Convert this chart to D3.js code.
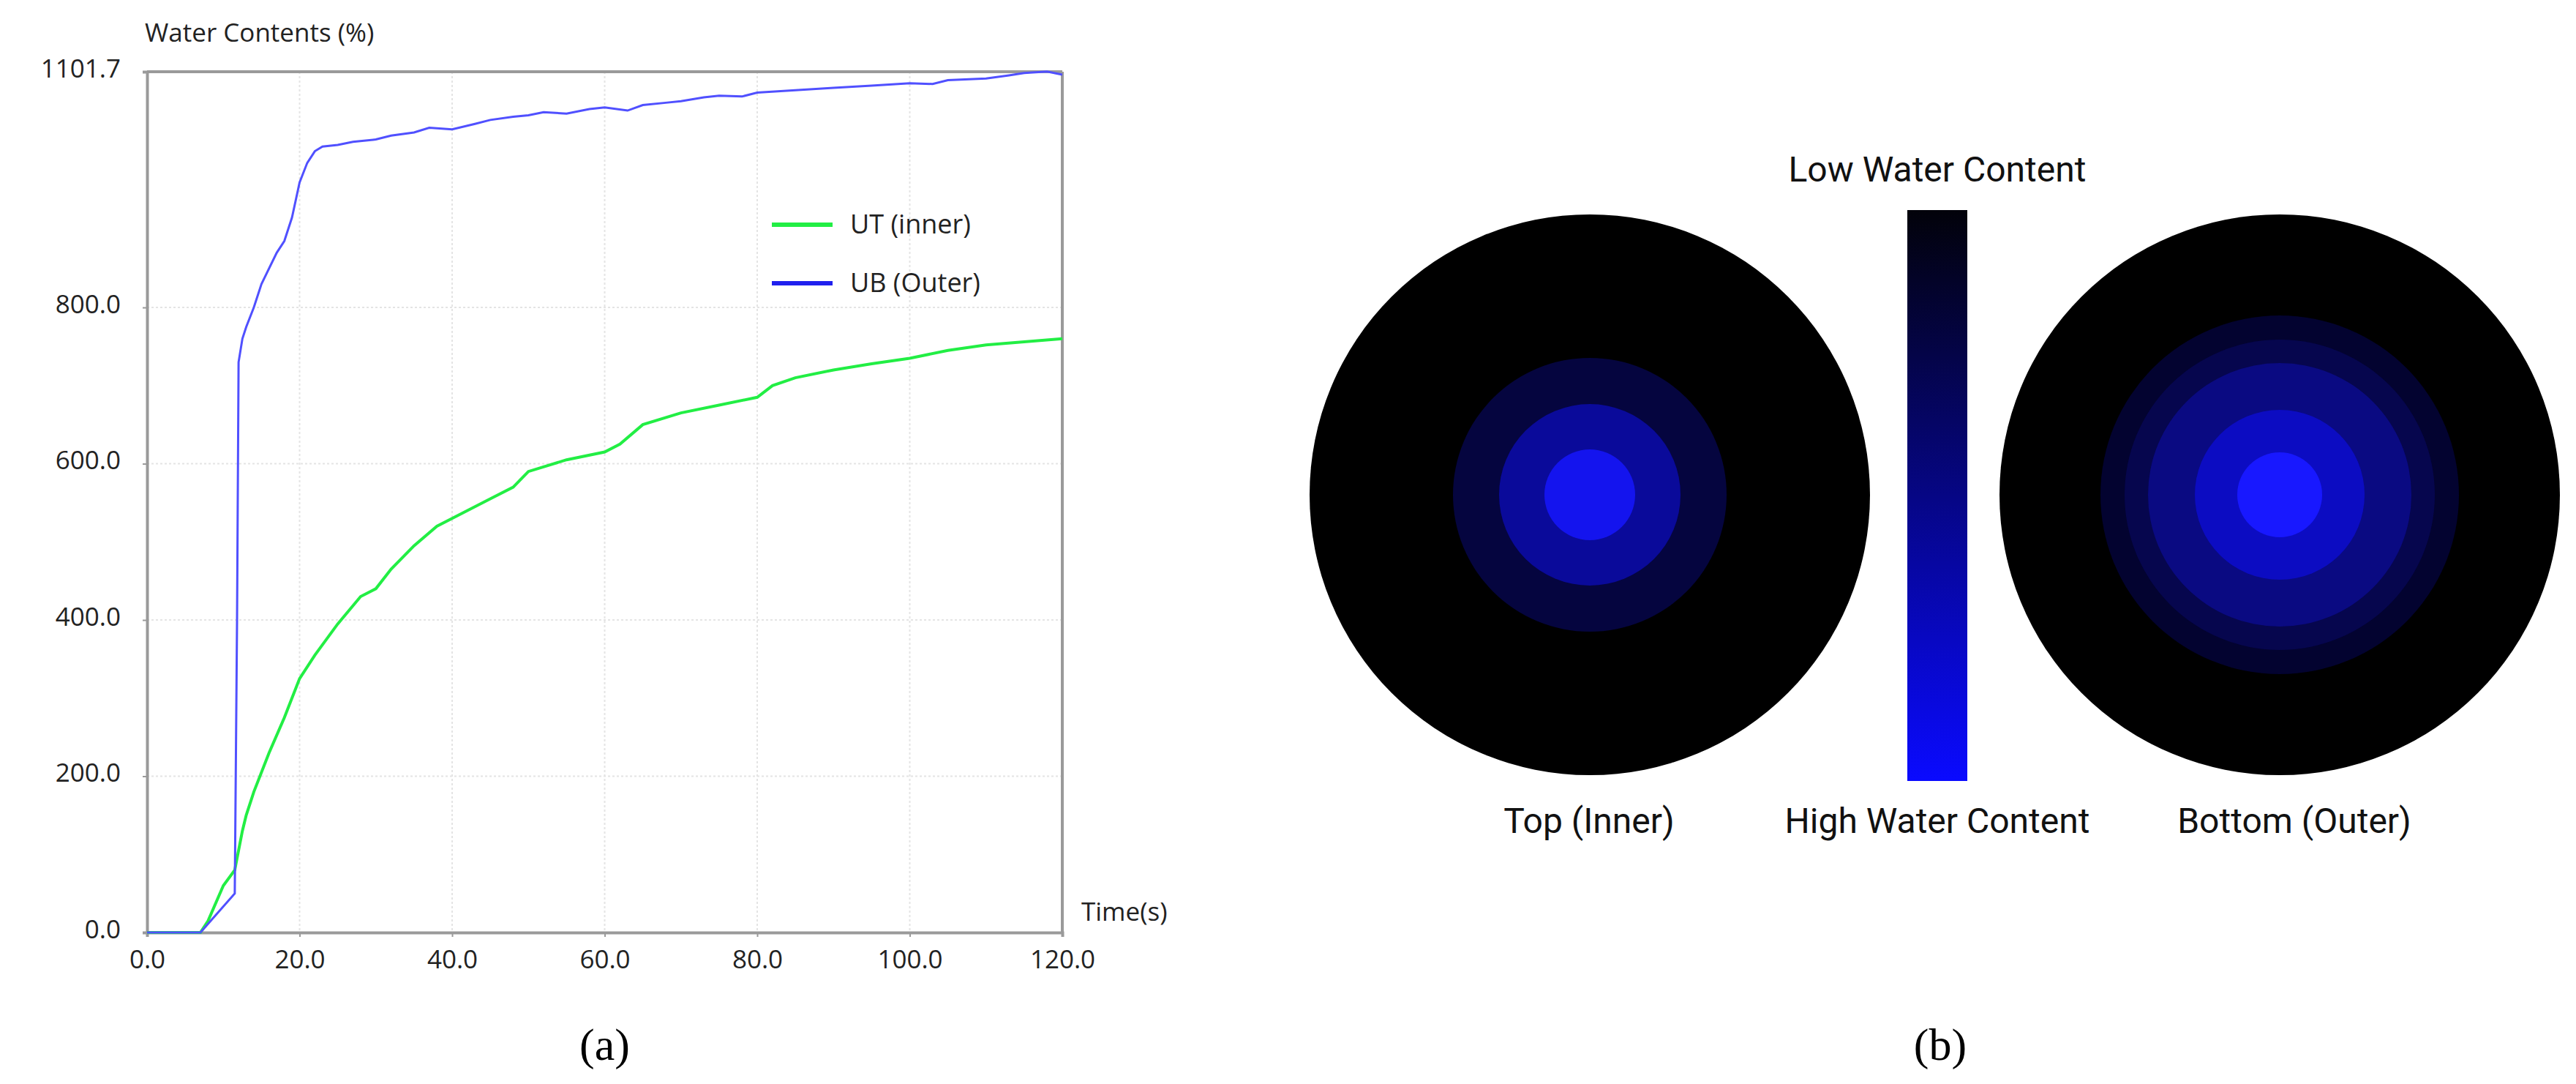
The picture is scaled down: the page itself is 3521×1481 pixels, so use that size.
<!DOCTYPE html>
<html><head><meta charset="utf-8">
<script src="https://cdn.jsdelivr.net/npm/d3@7"></script>
<style>body{margin:0;background:#fff}</style>
</head><body>
<script>
const timeUT = [0,7,8,10,11.5,12.5,13,14,16,18,19,20,22,25,28,30,32,35,38,40,45,48,50,55,60,62,65,70,75,80,82,85,90,95,100,105,110,115,120];
const valUT  = [0,0,15,60,80,130,150,180,230,275,300,325,355,395,430,440,465,495,520,530,555,570,590,605,615,625,650,665,675,685,700,710,720,728,735,745,752,756,760];
const timeUB = [0,7,11.5,11.8,12,12.5,13,14,15,17,18,19,20,21,22,23,25,27,30,32,35,37,40,43,45,48,50,52,55,58,60,63,65,68,70,73,75,78,80,85,90,95,100,103,105,110,113,115,118,120];
const valUB  = [0,0,50,400,730,760,775,800,830,870,885,915,960,985,1000,1006,1008,1012,1015,1020,1024,1030,1028,1035,1040,1044,1046,1050,1048,1054,1056,1052,1059,1062,1064,1069,1071,1070,1075,1078,1081,1084,1087,1086,1091,1093,1097,1100,1102,1098];
const yTicks = [0,200,400,600,800,1101.7];
const xTicks = [0,20,40,60,80,100,120];
const legendLabels = ["UT (inner)","UB (Outer)"];
const ringsTop = [{r:187,c:"#05053f"},{r:124,c:"#0a0a9a"},{r:62,c:"#1414ee"}];
const ringsBottom = [{r:245,c:"#030330"},{r:212,c:"#06064e"},{r:180,c:"#0a0a82"},{r:116,c:"#0c0cc2"},{r:58,c:"#1818ff"}];

const W=3521,H=1481;
const svg=d3.select("body").append("svg").attr("width",W).attr("height",H);
const font="'Open Sans', 'DejaVu Sans', sans-serif";
const L=201,R=1452,T=98,B=1274;
const x=d3.scaleLinear().domain([0,120]).range([L,R]);
const y=d3.scaleLinear().domain([0,1101.7]).range([B,T]);

svg.append("g").selectAll("line").data(xTicks.slice(1,-1)).join("line")
 .attr("x1",d=>x(d)).attr("x2",d=>x(d)).attr("y1",T).attr("y2",B)
 .attr("stroke","#e4e4e4").attr("stroke-width",2).attr("stroke-dasharray","3,3");
svg.append("g").selectAll("line").data(yTicks.slice(1,-1)).join("line")
 .attr("y1",d=>y(d)).attr("y2",d=>y(d)).attr("x1",L).attr("x2",R)
 .attr("stroke","#e4e4e4").attr("stroke-width",2).attr("stroke-dasharray","3,3");

const xa=svg.append("g").attr("transform",`translate(0,${B})`)
 .call(d3.axisBottom(x).tickValues(xTicks).tickFormat(d3.format(".1f")).tickSize(6).tickPadding(18));
const ya=svg.append("g").attr("transform",`translate(${L},0)`)
 .call(d3.axisLeft(y).tickValues(yTicks).tickFormat(d=>d===1101.7?"1101.7":d3.format(".1f")(d)).tickSize(6).tickPadding(30));
[xa,ya].forEach(a=>{a.select(".domain").attr("stroke","#9a9a9a").attr("stroke-width",4);
 a.selectAll(".tick line").attr("stroke","#9a9a9a").attr("stroke-width",2);
 a.selectAll("text").attr("font-family",font).attr("font-size",35).attr("fill","#222");});
ya.selectAll("text").attr("dy","0.2em");
svg.append("line").attr("x1",L).attr("x2",R).attr("y1",T).attr("y2",T).attr("stroke","#9a9a9a").attr("stroke-width",4);
svg.append("line").attr("x1",R).attr("x2",R).attr("y1",T).attr("y2",B).attr("stroke","#9a9a9a").attr("stroke-width",4);

const line=d3.line().x(d=>x(d[0])).y(d=>y(d[1]));
svg.append("path").datum(timeUT.map((t,i)=>[t,valUT[i]])).attr("d",line).attr("fill","none").attr("stroke","#22ee44").attr("stroke-width",4);
svg.append("path").datum(timeUB.map((t,i)=>[t,valUB[i]])).attr("d",line).attr("fill","none").attr("stroke","#5050ff").attr("stroke-width",3);

svg.append("text").attr("x",198).attr("y",57).text("Water Contents (%)").attr("font-family",font).attr("font-size",35).attr("fill","#222");
svg.append("text").attr("x",1478).attr("y",1258).text("Time(s)").attr("font-family",font).attr("font-size",35).attr("fill","#222");
const lc=["#22ee44","#2020ee"];
legendLabels.forEach((l,i)=>{
 const yy=307+i*80;
 svg.append("line").attr("x1",1055).attr("x2",1138).attr("y1",yy).attr("y2",yy).attr("stroke",lc[i]).attr("stroke-width",6);
 svg.append("text").attr("x",1162).attr("y",yy+12).text(l).attr("font-family",font).attr("font-size",36).attr("fill","#222");
});
svg.append("text").attr("x",x(60)).attr("y",1448).attr("text-anchor","middle").text("(a)")
 .attr("font-family","'Liberation Serif', serif").attr("font-size",62).attr("fill","#000");

function disk(cx,cy,rings){
 svg.append("circle").attr("cx",cx).attr("cy",cy).attr("r",383).attr("fill","#000");
 rings.forEach(g=>svg.append("circle").attr("cx",cx).attr("cy",cy).attr("r",g.r).attr("fill",g.c));
}
disk(2173,676,ringsTop);
disk(3116,676,ringsBottom);
const gr=svg.append("defs").append("linearGradient").attr("id","cb").attr("x1",0).attr("x2",0).attr("y1",0).attr("y2",1);
gr.append("stop").attr("offset","0%").attr("stop-color","#02020a");
gr.append("stop").attr("offset","100%").attr("stop-color","#0a0aff");
svg.append("rect").attr("x",2607).attr("y",287).attr("width",82).attr("height",780).attr("fill","url(#cb)");
const bf="'Roboto', 'DejaVu Sans', sans-serif";
[["Low Water Content",2648,248],["High Water Content",2648,1138],["Top (Inner)",2172,1138],["Bottom (Outer)",3136,1138]].forEach(t=>
 svg.append("text").attr("x",t[1]).attr("y",t[2]).attr("text-anchor","middle").text(t[0]).attr("font-family",bf).attr("font-size",48).attr("fill","#111"));
svg.append("text").attr("x",2652).attr("y",1448).attr("text-anchor","middle").text("(b)")
 .attr("font-family","'Liberation Serif', serif").attr("font-size",62).attr("fill","#000");
</script>
</body></html>
